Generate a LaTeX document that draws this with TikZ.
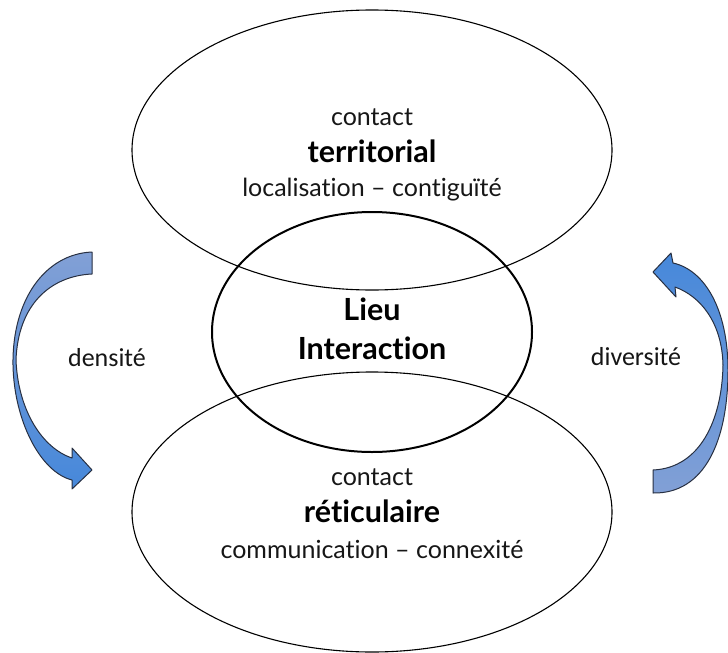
\documentclass[tikz,border=0pt]{standalone}
\usepackage{fontspec}
\setmainfont{Lato}[Ligatures={NoCommon}]
\newfontfamily\calib{Carlito}
\usetikzlibrary{shapes.geometric}
\definecolor{arrowlight}{RGB}{130,160,214}
\definecolor{arrowbright}{RGB}{70,136,218}
\definecolor{arrowedge}{RGB}{40,48,66}
\definecolor{textdark}{RGB}{22,22,22}
\tikzset{
  ring/.style={ellipse, draw=black, line width=1.1pt, inner sep=0pt},
  hub/.style={ellipse, draw=black, line width=2pt, inner sep=0pt},
  lbl/.style={anchor=base, inner sep=0pt, text=textdark, font=\fontsize{25}{30}\selectfont},
  boldlbl/.style={anchor=base, inner sep=0pt, text=black, font=\fontsize{30.5}{35}\selectfont\bfseries},
  side/.style={anchor=base, inner sep=0pt, text=textdark, font=\calib\fontsize{26}{30}\selectfont},
  bentarrow/.style={draw=arrowedge, line width=1pt, line join=round}
}
\begin{document}
\begin{tikzpicture}[x=1pt,y=-1pt]
\useasboundingbox (0,0) rectangle (728,653);
% ellipses
\node[ring, minimum width=480pt, minimum height=280pt] (territ) at (372,150) {};
\node[ring, minimum width=480pt, minimum height=280pt] (reticul) at (372,512) {};
\node[hub, minimum width=320pt, minimum height=240pt] (lieu) at (372,332) {};
% texts top
\node[lbl] (t1) at (372,125) {contact};
\node[boldlbl] (t2) at (372,162) {territorial};
\node[lbl] (t3) at (372,196) {localisation – contiguïté};
% texts middle
\node[boldlbl] (m1) at (372,320) {Lieu};
\node[boldlbl] (m2) at (372,359) {Interaction};
% texts bottom
\node[lbl] (b1) at (372,485) {contact};
\node[boldlbl] (b2) at (372,522) {réticulaire};
\node[lbl] (b3) at (372,558) {communication – connexité};
% side labels
\node[side] (dens) at (107,366) {densité};
\node[side] (divers) at (636,365) {diversité};
% left curved arrow (densité)
\path[bentarrow, top color=arrowlight, bottom color=arrowbright]
  (92,252) .. controls (45,254) and (12,300) .. (13,365)
  .. controls (14,420) and (40,472) .. (72,480)
  -- (72,489) -- (92,470) -- (72,448) -- (72,458)
  .. controls (42,448) and (18,410) .. (16,360)
  .. controls (18,305) and (50,276) .. (92,274) -- cycle;
% right curved arrow (diversité)
\path[bentarrow, top color=arrowbright, bottom color=arrowlight]
  (653,470) .. controls (700,468) and (722,420) .. (723,365)
  .. controls (722,322) and (700,296) .. (675,287)
  -- (676,297) -- (653,272) -- (671,253) -- (673,263)
  .. controls (705,270) and (728,310) .. (728,370)
  .. controls (728,440) and (705,494) .. (653,493) -- cycle;
\end{tikzpicture}
\end{document}
